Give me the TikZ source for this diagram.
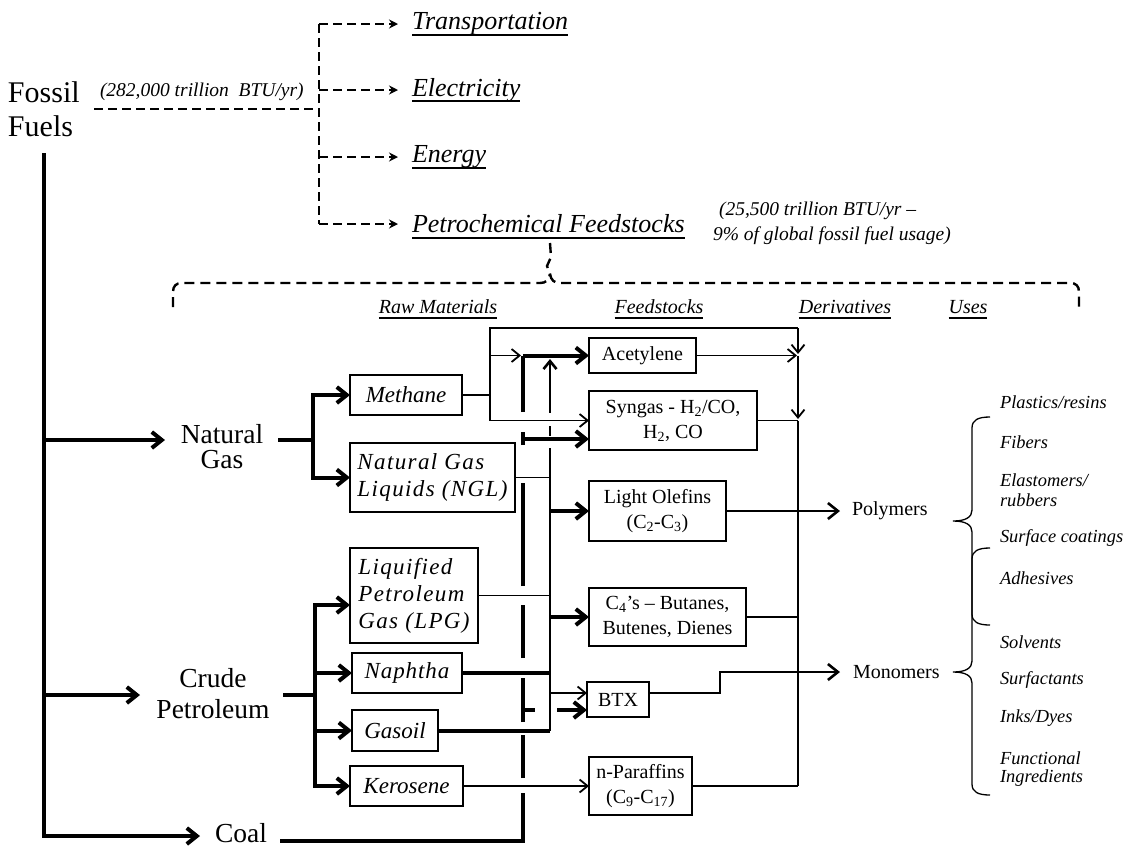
\documentclass[tikz,border=0pt]{standalone}
\usepackage{fontspec}
\setmainfont{Liberation Serif}
\usetikzlibrary{arrows.meta}
\newcommand{\fsz}[2]{\fontsize{#1}{#2}\selectfont}
\begin{document}
\begin{tikzpicture}[x=1pt,y=-1pt,
  every node/.style={inner sep=0pt, outer sep=0pt},
  heavy/.style={line width=4pt},
  medium/.style={line width=2.6pt},
  light/.style={line width=1.8pt},
  barb/.style={-{Straight Barb[length=10pt,width=16pt]}},
  sbarb/.style={-{Straight Barb[length=8pt,width=13pt]}},
  dashedarrow/.style={line width=2.8pt, dash pattern=on 9pt off 5pt, -{Stealth[length=9pt,width=9pt]}},
  dashline/.style={line width=2.8pt, dash pattern=on 9pt off 5pt},
  bracedash/.style={line width=2.4pt, dash pattern=on 10pt off 6pt},
  box/.style={draw, line width=1.3pt, align=center},
  rawbox/.style={box, font=\fsz{23}{27}\itshape},
  feedbox/.style={box, font=\fsz{20}{25}},
  big/.style={font=\fsz{27.5}{30}},
  head/.style={font=\fsz{20}{24}\itshape, anchor=base},
  usetext/.style={font=\fsz{18.4}{20}\itshape, anchor=west},
  toplabel/.style={font=\fsz{26}{30}\itshape, anchor=west},
  note/.style={font=\fsz{19.5}{25}\itshape, align=left},
  uline/.style={line width=1.8pt},
  curly/.style={line width=1.3pt},
]
\useasboundingbox (0,0) rectangle (1126,847);

% ---------- fossil fuels and end uses ----------
\node[font=\fsz{30}{34}, anchor=base west] (fossil) at (8,102) {Fossil};
\node[font=\fsz{30}{34}, anchor=base west] (fuels) at (8,136) {Fuels};
\node[note, anchor=west] (total) at (100,92) {(282,000 trillion\ \ BTU/yr)};

\coordinate (fstart) at (94,109);
\coordinate (fjoin) at (319,109);
\coordinate (ftop) at (319,24);
\coordinate (fbot) at (319,224);
\draw[dashline] (fstart) -- (fjoin);
\draw[dashline] (ftop) -- (fbot);

\node[toplabel] (trans) at (412,24) {Transportation};
\node[toplabel] (elec) at (412,90) {Electricity};
\node[toplabel] (energy) at (412,157) {Energy};
\node[toplabel] (petro) at (412,224) {Petrochemical Feedstocks};
\foreach \n in {trans,elec,energy,petro}{
  \draw[dashedarrow] (\n.west -| ftop) -- ([xshift=-14pt]\n.west);
  \draw[uline] ([yshift=-5pt]\n.base west) -- ([yshift=-5pt]\n.base east);
}
\node[note, anchor=north west] (share) at (713,202)
  {\hspace*{6pt}(25,500 trillion BTU/yr --\\9\% of global fossil fuel usage)};

% dashed brace opening the petrochemical chain
\coordinate (cusp) at (550,274);
\draw[bracedash] (550,243) -- (551,257) -- (547,266) -- (cusp);
\draw[bracedash] (173,307) -- (173,292) .. controls (173,286) and (176,283) .. (182,283)
  -- (540,283) .. controls (546,283) and (549,280) .. (cusp);
\draw[bracedash] (cusp) .. controls (551,280) and (554,283) .. (560,283)
  -- (1070,283) .. controls (1076,283) and (1079,286) .. (1079,292) -- (1079,307);

% column headers
\node[head] (hraw) at (438,313) {Raw Materials};
\node[head] (hfeed) at (659,313) {Feedstocks};
\node[head] (hder) at (845,313) {Derivatives};
\node[head] (huse) at (968,313) {Uses};
\foreach \n in {hraw,hfeed,hder,huse}
  \draw[uline] ([yshift=-5pt]\n.base west) -- ([yshift=-5pt]\n.base east);

% ---------- sources ----------
\node[big, anchor=base] (natural) at (222,443) {Natural};
\node[big, anchor=base] (gasword) at (222,468) {Gas};
\node[big, anchor=base] (crude) at (213,687) {Crude};
\node[big, anchor=base] (petrol) at (213,718) {Petroleum};
\node[big, anchor=base west] (coal) at (215,842) {Coal};

\coordinate (spinetop) at (44,153);
\draw[heavy, barb] (spinetop) |- (200,836);
\draw[heavy, barb] (44,440) -- (165,440);
\draw[heavy, barb] (44,695) -- (140,695);

% ---------- raw materials ----------
\node[rawbox, minimum width=112pt, minimum height=40pt] (meth) at (406,395) {Methane};
\node[rawbox, minimum width=165pt, minimum height=69pt, align=left] (ngl) at (432.5,477.5)
  {\addfontfeature{LetterSpace=6}Natural Gas\\\addfontfeature{LetterSpace=6}Liquids (NGL)};
\node[rawbox, minimum width=128pt, minimum height=95pt, align=left] (lpg) at (414,595.5)
  {\addfontfeature{LetterSpace=6}Liquified\\\addfontfeature{LetterSpace=6}Petroleum\\\addfontfeature{LetterSpace=6}Gas (LPG)};
\node[rawbox, minimum width=110pt, minimum height=40pt] (naph) at (407,673) {\addfontfeature{LetterSpace=4}Naphtha};
\node[rawbox, minimum width=86pt, minimum height=41pt] (gasoil) at (395,730.5) {Gasoil};
\node[rawbox, minimum width=113pt, minimum height=40pt] (kero) at (406.5,786) {Kerosene};

\draw[heavy] (278,440) -- (313,440);
\draw[heavy, barb] (313,440) |- (meth.west);
\draw[heavy, barb] (313,440) |- (ngl.west);
\draw[heavy] (283,695) -- (315,695);
\draw[heavy, barb] (315,695) |- ([yshift=-9.5pt]lpg.west);
\draw[heavy, barb] (315,695) |- (naph.west);
\draw[heavy, barb] (315,695) |- (gasoil.west);
\draw[heavy, barb] (315,695) |- (kero.west);

% ---------- feedstocks ----------
\node[feedbox, minimum width=107pt, minimum height=35pt] (acet) at (642.5,355.5) {Acetylene};
\node[feedbox, minimum width=168pt, minimum height=59pt] (syn) at (673,420.5)
  {Syngas - H\textsubscript{2}/CO,\\H\textsubscript{2}, CO};
\node[feedbox, minimum width=137pt, minimum height=60pt] (olef) at (657.5,511)
  {Light Olefins\\(C\textsubscript{2}-C\textsubscript{3})};
\node[feedbox, minimum width=157pt, minimum height=58pt] (cfour) at (667.5,617)
  {C\textsubscript{4}’s -- Butanes,\\Butenes, Dienes};
\node[feedbox, minimum width=62pt, minimum height=35pt] (btx) at (618,699.5) {BTX};
\node[feedbox, minimum width=103pt, minimum height=58pt] (npar) at (640.5,786)
  {n-Paraffins\\(C\textsubscript{9}-C\textsubscript{17})};

% methane routes
\coordinate (mtop) at (490,328);
\coordinate (mbot) at (490,420.5);
\draw[light] (meth.east) -- (meth.east -| mtop);
\draw[light] (mbot) -- (mtop) -- (798,328);
\draw[light, sbarb] (798,328) -- (798,354);
\draw[light, sbarb] (490,355.5) -- (521,355.5);
\draw[light, sbarb] (mbot) -- (syn.west);

% coal line with gaps where other lines pass over it
\draw[heavy, dash pattern=on 291pt off 15pt on 43pt off 13pt on 44pt off 20pt on 53pt off 19pt on 103pt off 38pt on 13pt off 20pt on 57pt off 5pt]
  (280,841) -| (523,355.5);
\draw[heavy, barb] (523,355.5) -- (acet.west);
\draw[heavy, barb] (523,439) -- ([yshift=-18.5pt]syn.west);
\draw[heavy, barb, dash pattern=on 12pt off 22pt on 100pt off 1pt] (523,710) -- ([yshift=-10.5pt]btx.west);

% hydrocarbon collecting line
\coordinate (busbot) at (550,730.5);
\coordinate (busngl) at (550,477.5);
\draw[heavy] (gasoil.east) -- (busbot);
\draw[medium] (busbot) -- (busngl);
\draw[medium, sbarb, dash pattern=on 30pt off 12pt on 10pt off 13pt on 60pt off 1pt] (busngl) -- (550,359);
\draw[light] (ngl.east) -- (busngl);
\draw[light] (lpg.east) -- (lpg.east -| busngl);
\draw[heavy] (naph.east) -- (naph.east -| busngl);
\draw[heavy, barb] (olef.west -| busngl) -- (olef.west);
\draw[heavy, barb] (cfour.west -| busngl) -- (cfour.west);
\draw[light, sbarb] (550,693) -- ([yshift=6.5pt]btx.west);
\draw[light, sbarb] (kero.east) -- (npar.west);

% ---------- derivatives ----------
\node[font=\fsz{20}{24}, anchor=west] (poly) at (852,511) {Polymers};
\node[font=\fsz{20}{24}, anchor=west] (mono) at (853,672) {Monomers};

\draw[light, sbarb] (acet.east) -- (797,355.5);
\draw[light, sbarb] (798,355.5) -- (798,419);
\draw[light] (syn.east) -- (798,420.5);
\draw[light] (798,420.5) -- (798,786);
\draw[light] (olef.east) -- (798,511);
\draw[medium] (cfour.east) -- (798,617);
\draw[light] (npar.east) -- (798,786);
\draw[medium, barb] (798,511) -- ([xshift=-12pt]poly.west);
\draw[light] ([yshift=6.5pt]btx.east) -- (720,693) -- (720,672) -- (798,672);
\draw[medium, barb] (798,672) -- ([xshift=-13pt]mono.west);

% ---------- uses ----------
\draw[curly] (990,417) .. controls (978,417) and (972,420) .. (972,428) -- (972,510)
  .. controls (972,517) and (966,521) .. (953,521)
  .. controls (966,521) and (972,525) .. (972,532) -- (972,614)
  .. controls (972,622) and (978,625) .. (990,625);
\draw[curly] (990,548) .. controls (978,548) and (972,551) .. (972,559) -- (972,661)
  .. controls (972,668) and (966,672) .. (953,672)
  .. controls (966,672) and (972,676) .. (972,683) -- (972,784)
  .. controls (972,792) and (978,795) .. (990,795);

\node[usetext] (u1) at (1000,402) {Plastics/resins};
\node[usetext] (u2) at (1000,442) {Fibers};
\node[usetext] (u3) at (1000,480) {Elastomers/};
\node[usetext] (u3b) at (1000,500) {rubbers};
\node[usetext] (u4) at (1000,538) {Surface coatings};
\node[usetext] (u5) at (1000,578) {Adhesives};
\node[usetext] (u6) at (1000,642) {Solvents};
\node[usetext] (u7) at (1000,680) {Surfactants};
\node[usetext] (u8) at (1000,718) {Inks/Dyes};
\node[usetext] (u9) at (1000,758) {Functional};
\node[usetext] (u9b) at (1000,778) {Ingredients};
\end{tikzpicture}
\end{document}
